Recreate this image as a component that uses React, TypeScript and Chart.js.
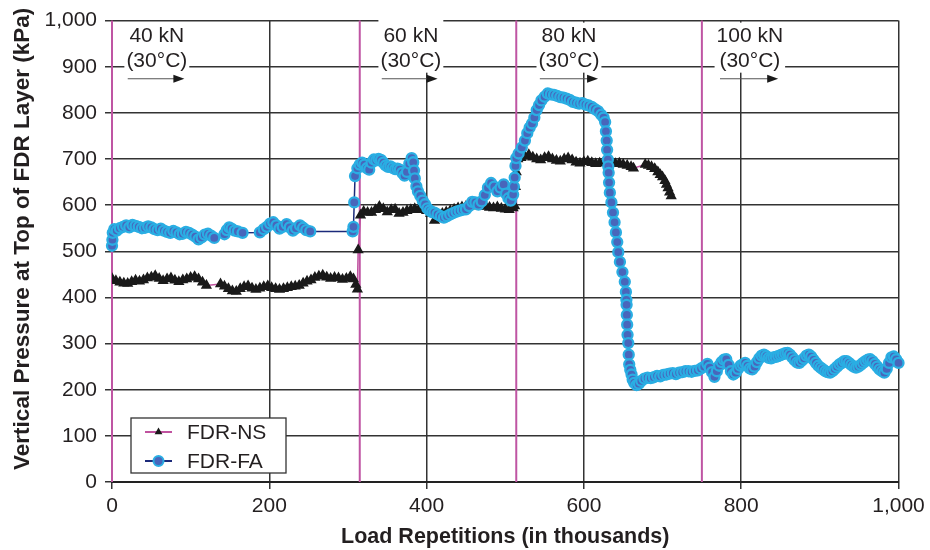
import React, { useEffect, useRef } from 'react';
import { Chart, registerables } from 'chart.js';

Chart.register(...registerables);

// ---------- FDR-NS (black triangles) ----------
const nsLoad40 = [0,5,10,15,20,25,30,35,40,45,50,55,60,65,70,75,80,85,90,95,100,105,110,115,120,138,143,148,153,158,163,168,173,178,183,188,193,198,203,208,213,218,223,228,233,238,243,248,253,258,263,268,273,278,283,288,293,298,303,307,310,312];
const nsPressure40 = [441,436,433,431,430,434,437,435,438,442,444,447,441,436,440,442,437,434,438,440,443,445,440,433,426,429,424,419,414,413,419,423,425,420,417,420,423,425,421,419,417,419,421,423,424,426,431,435,438,443,446,448,444,441,443,442,439,441,445,440,428,418];
const nsLoad60 = [313,316,320,325,330,335,340,345,350,355,360,365,370,375,380,385,390,395,400,405,410,415,420,425,430,435,440,445,450,455,460,465,470,475,480,485,490,495,500,505,510,512,513,514];
const nsPressure60 = [503,578,586,584,584,590,597,592,585,590,591,582,584,588,590,592,590,591,588,582,567,578,582,585,588,591,594,596,597,598,600,598,597,598,595,594,596,593,591,590,594,598,640,672];
const nsLoad80 = [516,520,525,530,535,540,545,550,555,560,565,570,575,580,585,590,595,600,605,610,615,620,625,630,635,640,645,650,655,660,663,678,682,686,690,694,697,700,703,705,707,709,711];
const nsPressure80 = [700,703,706,709,704,700,698,703,705,700,697,695,700,702,698,693,691,694,695,692,690,691,693,695,692,690,691,688,686,683,680,688,686,683,679,672,666,661,653,645,637,628,620];

// ---------- FDR-FA (blue circles) ----------
const faLoad40 = [0,0.5,1,3,6,10,14,18,22,26,30,34,38,42,46,50,54,58,62,66,70,74,78,82,86,90,94,98,102,106,110,114,118,122,126,130,143,146,149,152,156,160,166,188,193,197,201,205,209,213,217,222,226,230,234,239,243,247,252,306,307,308,309];
const faPressure40 = [512,525,540,548,545,550,553,556,552,557,555,553,550,551,554,552,548,546,549,545,542,540,544,541,537,538,542,540,536,532,526,530,536,538,534,529,537,546,552,549,545,543,540,541,548,553,560,563,556,549,553,559,552,545,550,556,551,546,543,543,553,606,663];
const faLoad60 = [312,315,318,321,324,327,330,333,336,339,342,345,348,351,354,357,360,363,366,369,372,375,378,381,383,384,385,387,389,392,395,398,401,404,407,410,414,418,422,426,430,434,438,442,446,450,454,458,462,466,470,474,478,482,486,490,494,498,501,504,507,510,511,512,513,514];
const faPressure60 = [680,688,692,688,680,677,692,699,697,700,698,692,686,683,684,681,678,679,677,670,664,672,690,702,693,675,658,641,630,620,610,602,593,588,585,584,580,576,573,576,580,583,586,588,590,591,598,607,606,601,608,622,638,648,640,630,638,645,625,615,610,623,640,660,685,702];
const faLoad80 = [517,521,525,528,531,534,537,540,543,546,550,554,558,562,566,570,574,578,582,586,590,594,598,602,606,610,614,618,622,625,627,628,629,629.5,630.5,631,631.5,632,633,635,637,639,640.7,642.4,643.7,645.8,649,652,653.4,654,654.3,654.6,655,655.5,656.4,657,657.6,659,660.6,662,664,667,670,673,677,681,685,689,693,697,701,705,709,713,717,721,725,729,733,737,741,745,749];
const faPressure80 = [712,725,740,756,768,777,790,806,817,827,835,842,840,839,837,834,833,831,828,824,822,820,821,818,816,813,808,804,796,790,780,760,740,720,699,684,670,649,627,606,584,563,541,520,498,477,455,434,412,395,384,362,341,319,301,276,255,243,233,222,215,210,213,219,224,226,225,227,230,229,232,233,235,236,234,237,238,240,240,239,241,242,246];
const faLoad100 = [753,757,760,763,766,769,772,775,778,781,784,787,790,793,796,799,802,805,808,811,814,817,820,823,826,829,832,835,838,841,844,847,850,853,856,859,862,865,868,871,874,877,880,883,886,889,892,895,898,901,904,907,910,913,916,919,922,925,928,931,934,937,940,943,946,949,952,955,958,961,964,967,970,973,976,979,982,985,988,991,994,997,1000];
const faPressure100 = [250,256,248,238,228,240,252,260,265,266,254,240,233,237,245,252,255,258,252,246,244,250,260,268,274,276,273,269,268,270,271,273,275,277,279,280,276,270,264,259,258,263,268,274,276,272,265,258,252,248,244,240,238,237,240,245,250,255,258,262,262,258,254,250,248,250,254,258,262,265,266,262,256,250,244,240,237,245,258,270,272,266,258];

// ---------- stage boundaries & labels ----------
const stageBoundaries = [0, 315, 514, 750];
const stageLoads = ['40 kN', '60 kN', '80 kN', '100 kN'];
const tempLabel = '(30°C)';
const stageLabelX = [57, 380, 581, 811];
const stageArrowFrom = [20, 343, 544, 773];
const stageArrowTo = [92, 414, 618, 847];
const stageBoxCoversTop = [false, true, false, false];
const labelLine1Y = 966;
const labelLine2Y = 911;
const arrowY = 874;

const xTitle = 'Load Repetitions (in thousands)';
const yTitle = '    Vertical Pressure at Top of FDR Layer (kPa)';

const FONT = '"Liberation Sans", Arial, Helvetica, sans-serif';
const TEXT = '#231f20';

const toPoints = (xs: number[], ys: number[]) => xs.map((x, i) => ({ x, y: ys[i] }));

const annotationPlugin = {
  id: 'stageAnnotations',
  beforeDatasetsDraw(chart: any) {
    const { ctx, chartArea } = chart;
    const xs = chart.scales.x;
    const ys = chart.scales.y;
    ctx.save();
    ctx.font = `21px ${FONT}`;
    stageLoads.forEach((label: string, i: number) => {
      const cx = xs.getPixelForValue(stageLabelX[i]);
      const y1 = ys.getPixelForValue(labelLine1Y);
      const y2 = ys.getPixelForValue(labelLine2Y);
      const ya = ys.getPixelForValue(arrowY);
      const w = Math.max(ctx.measureText(label).width, ctx.measureText(tempLabel).width);
      const top = stageBoxCoversTop[i] ? 0 : chartArea.top + 2;
      ctx.fillStyle = '#ffffff';
      ctx.fillRect(cx - w / 2 - 2, top, w + 4, y2 + 11 - top);
      ctx.fillStyle = TEXT;
      ctx.textAlign = 'center';
      ctx.textBaseline = 'middle';
      ctx.fillText(label, cx, y1);
      ctx.fillText(tempLabel, cx, y2);
      const ax1 = xs.getPixelForValue(stageArrowFrom[i]);
      const ax2 = xs.getPixelForValue(stageArrowTo[i]);
      ctx.strokeStyle = '#555555';
      ctx.lineWidth = 1.2;
      ctx.beginPath();
      ctx.moveTo(ax1, ya);
      ctx.lineTo(ax2 - 8, ya);
      ctx.stroke();
      ctx.fillStyle = '#1a1a1a';
      ctx.beginPath();
      ctx.moveTo(ax2, ya);
      ctx.lineTo(ax2 - 11, ya - 4);
      ctx.lineTo(ax2 - 11, ya + 4);
      ctx.closePath();
      ctx.fill();
    });
    ctx.restore();
  },
};

const legendPlugin = {
  id: 'boxLegend',
  afterDatasetsDraw(chart: any) {
    const { ctx, chartArea } = chart;
    const left = chartArea.left + 19;
    const top = chartArea.bottom - 64;
    const w = 155;
    const h = 55;
    ctx.save();
    ctx.fillStyle = '#ffffff';
    ctx.fillRect(left, top, w, h);
    ctx.strokeStyle = '#333333';
    ctx.lineWidth = 1.3;
    ctx.strokeRect(left, top, w, h);
    const order = [1, 0];
    order.forEach((dsIndex, row) => {
      const ds = chart.data.datasets[dsIndex];
      const ry = top + 14 + row * 29;
      const mx = left + 27.5;
      ctx.strokeStyle = ds.borderColor;
      ctx.lineWidth = 2;
      ctx.beginPath();
      ctx.moveTo(left + 14, ry);
      ctx.lineTo(left + 41, ry);
      ctx.stroke();
      if (ds.pointStyle === 'triangle') {
        const r = 4.5;
        ctx.fillStyle = ds.pointBackgroundColor;
        ctx.beginPath();
        ctx.moveTo(mx, ry - r);
        ctx.lineTo(mx + r * 0.866, ry + r * 0.5);
        ctx.lineTo(mx - r * 0.866, ry + r * 0.5);
        ctx.closePath();
        ctx.fill();
      } else {
        ctx.fillStyle = ds.pointBackgroundColor;
        ctx.strokeStyle = ds.pointBorderColor;
        ctx.lineWidth = 2;
        ctx.beginPath();
        ctx.arc(mx, ry, 5, 0, Math.PI * 2);
        ctx.fill();
        ctx.stroke();
      }
      ctx.fillStyle = TEXT;
      ctx.font = `21px ${FONT}`;
      ctx.textAlign = 'left';
      ctx.textBaseline = 'middle';
      ctx.fillText(ds.label, left + 56, ry + 1);
    });
    ctx.restore();
  },
};

export default function App() {
  const canvasRef = useRef<HTMLCanvasElement | null>(null);

  useEffect(() => {
    document.body.style.margin = '0';
    const canvas = canvasRef.current;
    if (!canvas) return;

    const boundaryData: any[] = [];
    stageBoundaries.forEach((b) => {
      boundaryData.push({ x: b, y: 0 }, { x: b, y: 1000 }, { x: b, y: null });
    });

    const fmt = (v: any) => Number(v).toLocaleString('en-US');

    const chart = new Chart(canvas, {
      type: 'scatter',
      data: {
        datasets: [
          {
            label: 'FDR-FA',
            data: [
              ...toPoints(faLoad40, faPressure40),
              ...toPoints(faLoad60, faPressure60),
              ...toPoints(faLoad80, faPressure80),
              ...toPoints(faLoad100, faPressure100),
            ],
            showLine: true,
            borderColor: '#1b2a7a',
            borderWidth: 1.5,
            pointRadius: 5,
            pointBackgroundColor: '#4866bb',
            pointBorderColor: '#2aaee3',
            pointBorderWidth: 2.3,
            pointStyle: 'circle',
            clip: false,
          } as any,
          {
            label: 'FDR-NS',
            data: [
              ...toPoints(nsLoad40, nsPressure40),
              ...toPoints(nsLoad60, nsPressure60),
              ...toPoints(nsLoad80, nsPressure80),
            ],
            showLine: true,
            borderColor: '#c0529f',
            borderWidth: 1.5,
            pointStyle: 'triangle',
            pointRadius: 5,
            pointBackgroundColor: '#1a1a1a',
            pointBorderColor: '#1a1a1a',
            pointBorderWidth: 1.5,
          } as any,
          {
            label: 'boundaries',
            data: boundaryData,
            showLine: true,
            spanGaps: false,
            borderColor: '#bf55a3',
            borderWidth: 2,
            pointRadius: 0,
            clip: false,
          } as any,
        ],
      },
      options: {
        responsive: false,
        animation: false,
        devicePixelRatio: 1,
        events: [],
        layout: { padding: { top: 16, right: 31.5, left: 0, bottom: 0 } },
        plugins: { legend: { display: false }, tooltip: { enabled: false } },
        scales: {
          x: {
            type: 'linear',
            min: 0,
            max: 1000,
            ticks: { stepSize: 200, color: TEXT, font: { size: 21, family: FONT }, padding: 5, callback: fmt },
            grid: { color: '#333333', lineWidth: 1.5, tickLength: 7 },
            border: { color: '#222222', width: 2 },
            title: {
              display: true,
              text: xTitle,
              color: TEXT,
              font: { size: 21.5, weight: 'bold', family: FONT },
              padding: { top: 0, bottom: 0 },
            },
            afterFit: (s: any) => { s.height = 68; },
          },
          y: {
            type: 'linear',
            min: 0,
            max: 1000,
            ticks: { stepSize: 100, color: TEXT, font: { size: 21, family: FONT }, padding: 8, callback: fmt },
            grid: { color: '#333333', lineWidth: 1.5, tickLength: 7 },
            border: { color: '#222222', width: 2 },
            title: {
              display: true,
              text: yTitle,
              color: TEXT,
              font: { size: 22.5, weight: 'bold', family: FONT },
              padding: { top: 9, bottom: 0 },
            },
            afterFit: (s: any) => { s.width = 112; },
          },
        },
      } as any,
      plugins: [annotationPlugin, legendPlugin],
    });

    return () => chart.destroy();
  }, []);

  return (
    <div style={{ position: 'absolute', left: 0, top: 0, width: 930, height: 550, background: '#ffffff' }}>
      <canvas ref={canvasRef} width={930} height={550} style={{ display: 'block' }} />
    </div>
  );
}
